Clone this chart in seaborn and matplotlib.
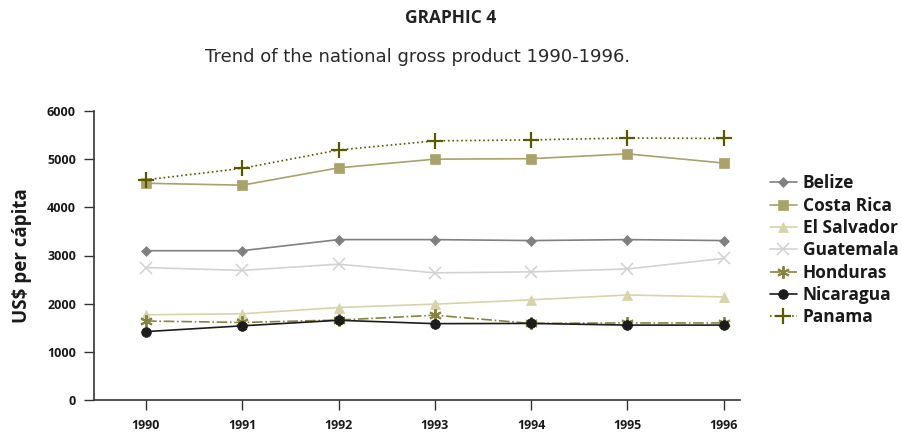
import numpy as np
import pandas as pd
import matplotlib
matplotlib.use("Agg")
import matplotlib.pyplot as plt
import seaborn as sns

years = ["1990", "1991", "1992", "1993", "1994", "1995", "1996"]
belize = [3100, 3100, 3330, 3330, 3310, 3330, 3310]
costa_rica = [4500, 4460, 4820, 5000, 5010, 5110, 4920]
el_salvador = [1770, 1790, 1920, 1990, 2080, 2180, 2140]
guatemala = [2750, 2690, 2820, 2640, 2660, 2720, 2940]
honduras = [1640, 1610, 1660, 1760, 1590, 1600, 1600]
nicaragua = [1420, 1540, 1655, 1585, 1590, 1555, 1555]
panama = [4570, 4810, 5190, 5380, 5400, 5440, 5430]

series = {
    "Belize": belize,
    "Costa Rica": costa_rica,
    "El Salvador": el_salvador,
    "Guatemala": guatemala,
    "Honduras": honduras,
    "Nicaragua": nicaragua,
    "Panama": panama,
}

# look of each country: colour, marker, marker size, line style, marker edge width
styles = {
    "Belize": ("#808080", "D", 5.5, "-", 0.5),
    "Costa Rica": ("#aaa26a", "s", 7, "-", 0.5),
    "El Salvador": ("#d8d3aa", "^", 7, "-", 0.5),
    "Guatemala": ("#d2d2d2", "x", 9, "-", 1.1),
    "Honduras": ("#8a8340", (6, 2, 0), 9, "-.", 1.4),
    "Nicaragua": ("#1c1c1c", "o", 7, "-", 0.5),
    "Panama": ("#5c5800", "+", 12, ":", 1.6),
}

df = pd.DataFrame(
    [(c, i, y, v) for c, vals in series.items() for i, (y, v) in enumerate(zip(years, vals))],
    columns=["country", "pos", "year", "value"],
)

sns.set_style("ticks")
plt.rcParams["font.family"] = ["Open Sans", "DejaVu Sans"]

fig = plt.figure(figsize=(9.02, 4.33), dpi=100)
ax = fig.add_axes([94 / 902, 33 / 433, (740 - 94) / 902, (400 - 111) / 433])

for name in series:
    color, marker, ms, ls, mew = styles[name]
    d = df[df["country"] == name]
    sns.lineplot(
        data=d, x="pos", y="value", ax=ax, color=color, marker=marker,
        markersize=ms, linestyle=ls, linewidth=1.2, label=name,
        markeredgecolor=color, markeredgewidth=mew,
    )

ax.set_xlim(-0.54, 6.17)
ax.set_ylim(0, 6000)
ax.set_xticks(range(len(years)))
ax.set_xticklabels(years)
ax.set_yticks(range(0, 6001, 1000))
ax.tick_params(axis="both", direction="out", length=7, width=1, color="#333333",
               labelsize=9)
for lab in ax.get_xticklabels() + ax.get_yticklabels():
    lab.set_fontweight("bold")
    lab.set_color("#1a1a1a")
ax.tick_params(axis="x", pad=7)
ax.tick_params(axis="y", pad=6)
ax.set_xlabel("")
ax.set_ylabel("US$ per cápita", fontsize=13.5, fontweight="bold", labelpad=11,
              color="#1a1a1a")
for s in ("top", "right"):
    ax.spines[s].set_visible(False)
for s in ("left", "bottom"):
    ax.spines[s].set_color("#333333")
    ax.spines[s].set_linewidth(1.2)

leg = ax.legend(
    loc="upper left", bbox_to_anchor=(1.035, 0.805), frameon=False,
    prop={"weight": "bold", "size": 12.5}, handlelength=1.6, handletextpad=0.3,
    labelspacing=0.25, borderaxespad=0,
)
for t in leg.get_texts():
    t.set_color("#1a1a1a")

fig.text(0.5, 0.958, "GRAPHIC 4", ha="center", va="center", fontsize=12.5,
         fontweight="bold", color="#222222")
fig.text(0.463, 0.868, "Trend of the national gross product 1990-1996.", ha="center",
         va="center", fontsize=13, color="#2a2a2a",
         family=["Liberation Sans Narrow", "DejaVu Sans"])

fig.savefig("out.png", dpi=100)
